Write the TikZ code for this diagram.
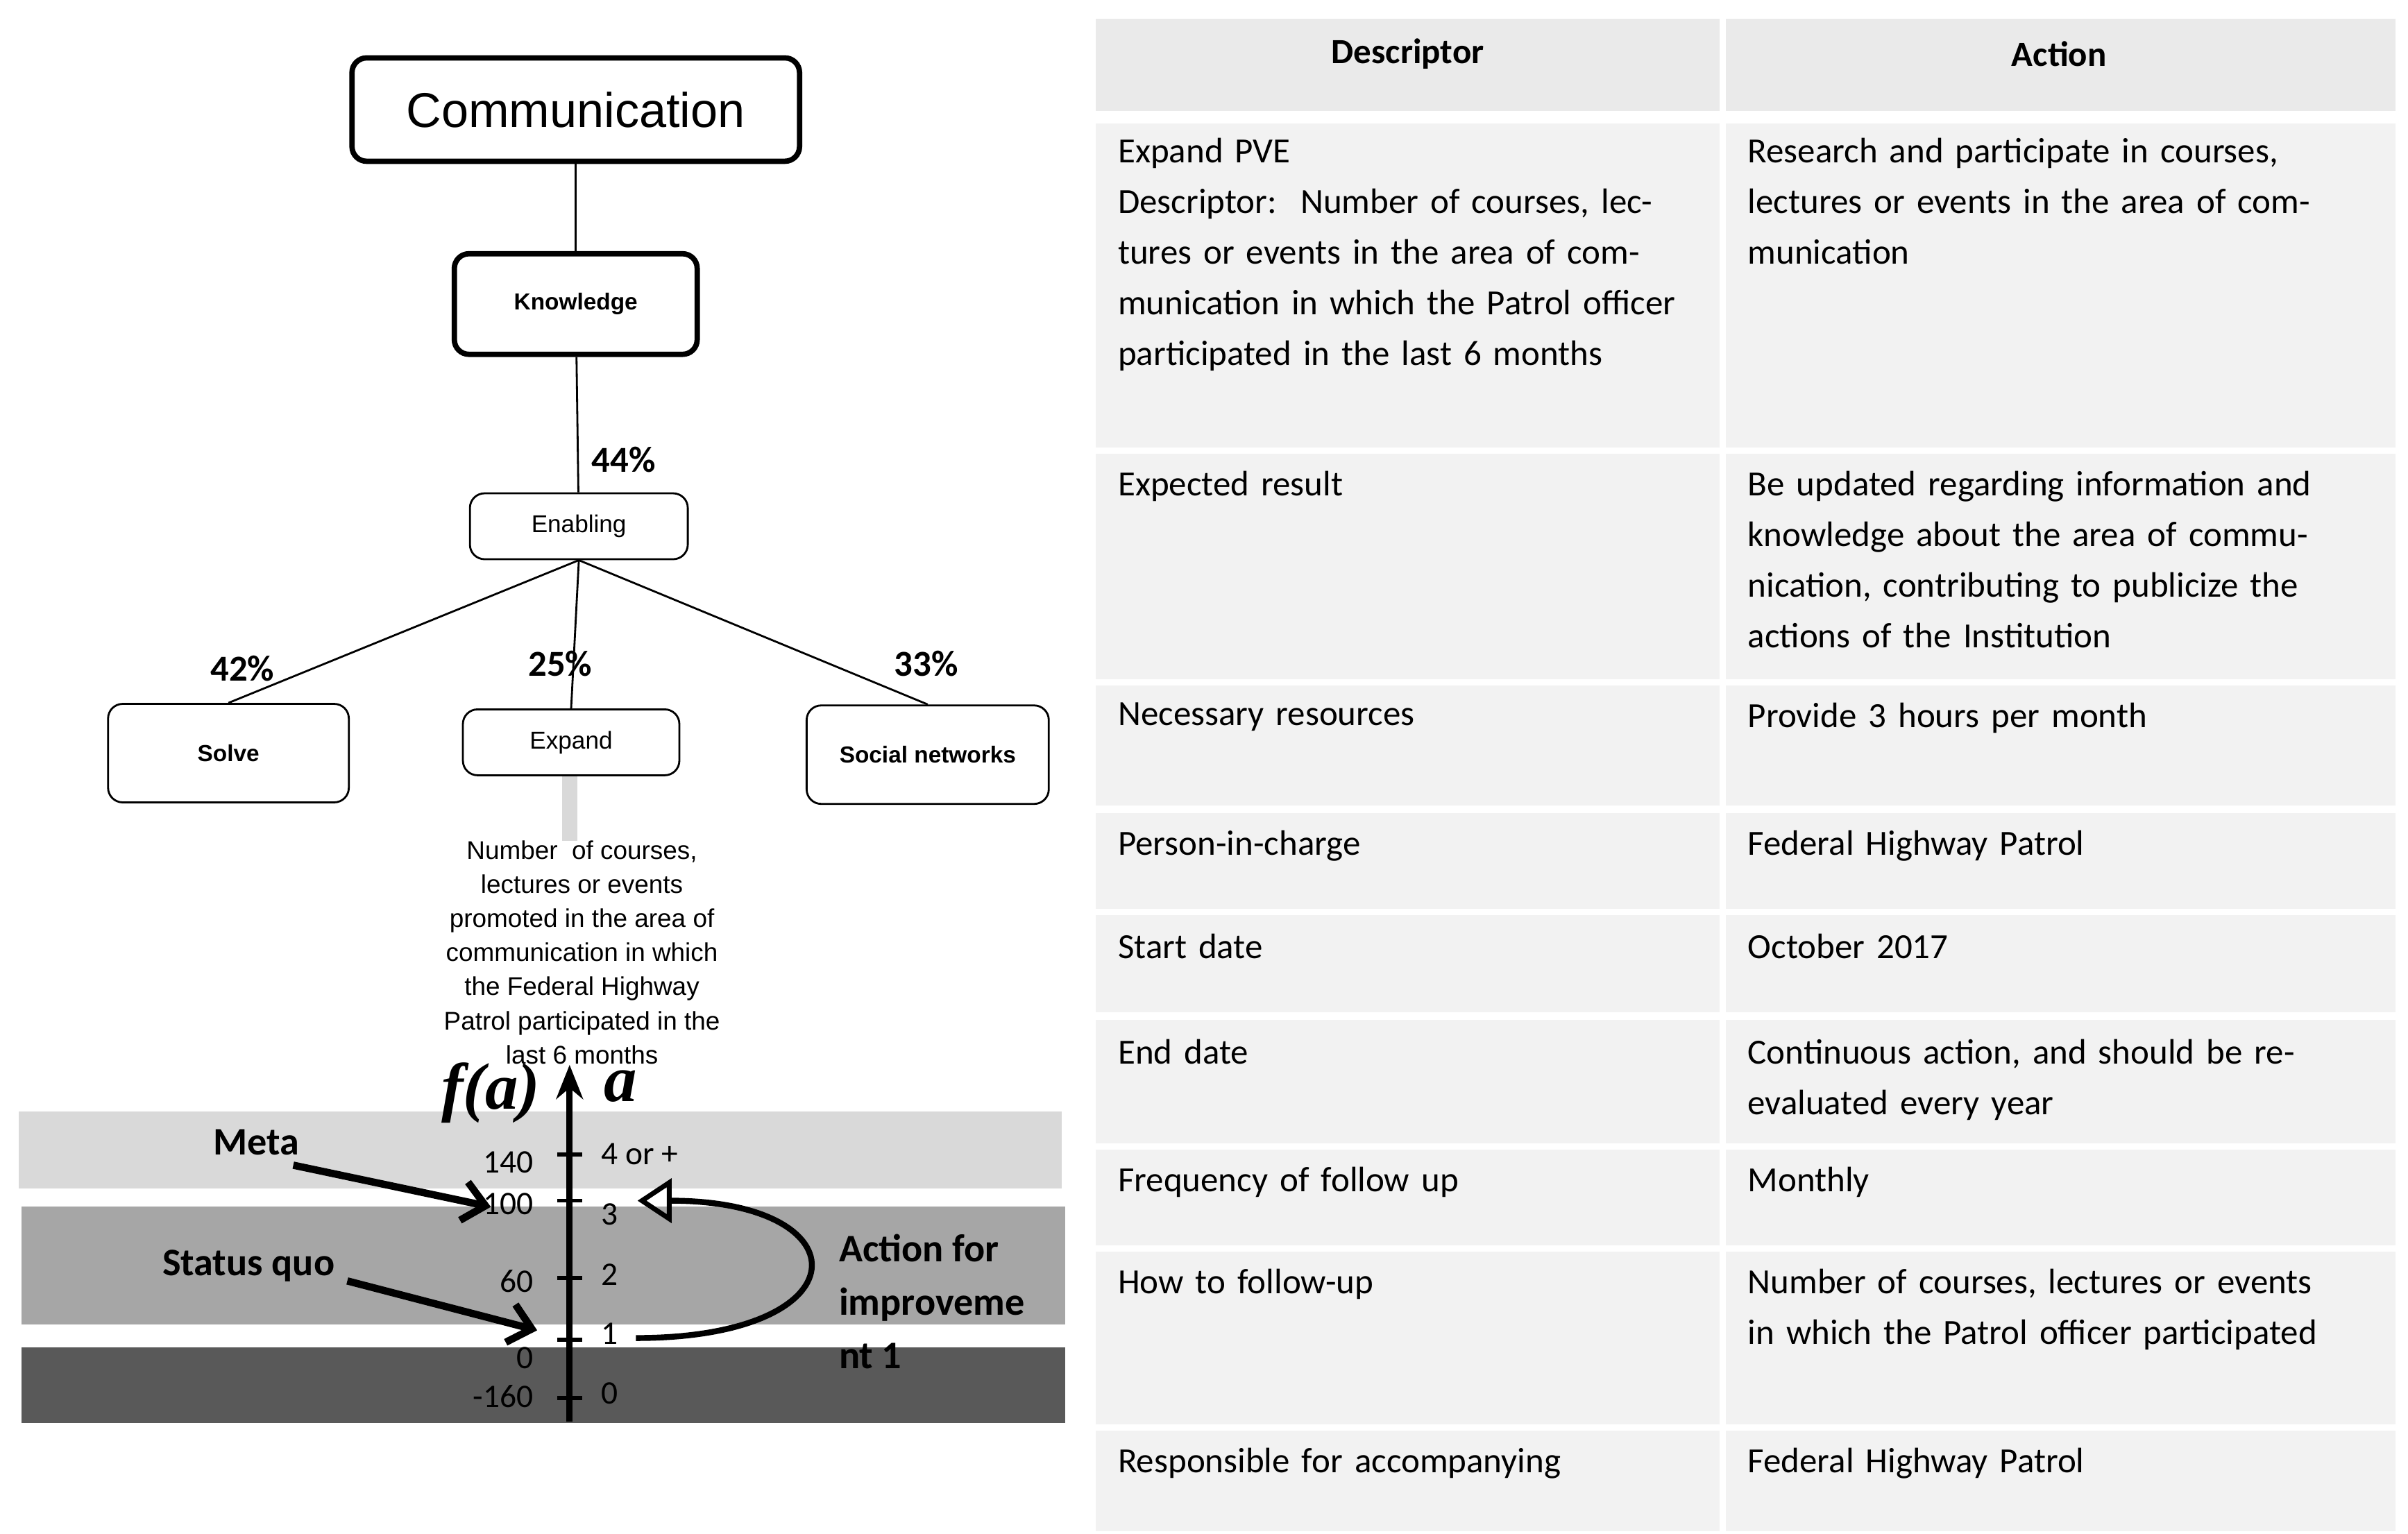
\documentclass[tikz,border=0pt]{standalone}
\usepackage{fontspec}
\setmainfont{Liberation Sans}
\newfontfamily\calfont{Carlito}
\newfontfamily\tmsfont{Liberation Serif}
\usetikzlibrary{calc, arrows.meta}
\definecolor{cellgray}{HTML}{F2F2F2}
\definecolor{bandA}{HTML}{D9D9D9}
\definecolor{bandB}{HTML}{A6A6A6}
\definecolor{bandC}{HTML}{595959}
\tikzset{
  box/.style={draw, rounded corners=6pt, line width=0.8pt, minimum height=0.95cm},
  bigbox/.style={box, line width=2.2pt},
  pct/.style={font=\calfont\bfseries\fontsize{15}{18}\selectfont},
  cell/.style={anchor=north west, inner sep=0pt, align=left, text width=8.45cm,
    font=\calfont\fontsize{14.5}{20.8}\selectfont},
  tick/.style={font=\calfont\fontsize{13.5}{15}\selectfont},
  callout/.style={font=\calfont\bfseries\fontsize{16}{22}\selectfont}
}
\begin{document}
\begin{tikzpicture}[x=0.02224cm, y=-0.02224cm]
\useasboundingbox (0,0) rectangle (1560,993.7);

% Table
\fill[cellgray!80!gray!60] (710,12) rectangle (1114,72);
\fill[cellgray!80!gray!60] (1118,12) rectangle (1552,72);
\foreach \t/\b in {80/290, 294/440, 444/522, 527/589, 593/656, 661/741, 745/807, 811/923, 927/992}{
  \fill[cellgray] (710,\t) rectangle (1114,\b);
  \fill[cellgray] (1118,\t) rectangle (1552,\b);
}
\node[font=\calfont\bfseries\fontsize{14.5}{18}\selectfont] (hd) at (912,35) {Descriptor};
\node[font=\calfont\bfseries\fontsize{14.5}{18}\selectfont] (ha) at (1334,35) {Action};
\node[cell] (d1) at (724,89) {Expand PVE\\Descriptor:\ \ Number of courses, lectures or events in the area of communication in which the Patrol officer participated in the last 6 months};
\node[cell] (a1) at (1132,89) {Research and participate in courses, lectures or events in the area of communication};
\node[cell] (d2) at (724,305) {Expected result};
\node[cell] (a2) at (1132,305) {Be updated regarding information and knowledge about the area of communication, contributing to publicize the actions of the Institution};
\node[cell] (d3) at (724,455) {Necessary resources};
\node[cell] (a3) at (1132,455) {Provide 3 hours per month};
\node[cell] (d4) at (724,538) {Person-in-charge};
\node[cell] (a4) at (1132,538) {Federal Highway Patrol};
\node[cell] (d5) at (724,605) {Start date};
\node[cell] (a5) at (1132,605) {October 2017};
\node[cell] (d6) at (724,673) {End date};
\node[cell] (a6) at (1132,673) {Continuous action, and should be re-evaluated every year};
\node[cell] (d7) at (724,756) {Frequency of follow up};
\node[cell] (a7) at (1132,756) {Monthly};
\node[cell] (d8) at (724,822) {How to follow-up};
\node[cell] (a8) at (1132,822) {Number of courses, lectures or events in which the Patrol officer participated};
\node[cell] (d9) at (724,938) {Responsible for accompanying};
\node[cell] (a9) at (1132,938) {Federal Highway Patrol};

% Tree
\node[bigbox, minimum width=6.45cm, minimum height=1.49cm, font=\fontsize{20}{24}\selectfont] (comm) at (373,71) {Communication};
\node[bigbox, minimum width=3.5cm, minimum height=1.45cm, font=\bfseries\fontsize{9.5}{12}\selectfont] (know) at (373,197) {Knowledge};
\node[box, minimum width=3.14cm, font=\fontsize{10}{12}\selectfont] (enab) at (375,341) {Enabling};
\node[box, minimum width=3.47cm, minimum height=1.42cm, font=\bfseries\fontsize{9.5}{12}\selectfont] (solve) at (148,488) {Solve};
\node[box, minimum width=3.12cm, font=\fontsize{10}{12}\selectfont] (expand) at (370,481) {Expand};
\node[box, minimum width=3.49cm, minimum height=1.42cm, font=\bfseries\fontsize{9.5}{12}\selectfont] (social) at (601,489) {Social networks};
\draw[line width=0.8pt] (comm) -- (know);
\draw[line width=0.8pt] (know) -- (enab);
\draw[line width=0.8pt] (enab.south) -- (solve.north);
\draw[line width=0.8pt] (enab.south) -- (expand.north);
\draw[line width=0.8pt] (enab.south) -- (social.north);
\node[pct] (p44) at (404,298) {44\%};
\node[pct] (p42) at (157,433) {42\%};
\node[pct] (p25) at (363,430) {25\%};
\node[pct] (p33) at (600,430) {33\%};

% Indicator
\fill[bandA] (12,720) rectangle (688,770);
\fill[bandB] (14,782) rectangle (690,858);
\fill[bandC] (14,873) rectangle (690,922);
\fill[bandA] (364,503) rectangle (374,545);
\node[align=center, font=\fontsize{10.5}{14}\selectfont] (ind) at (377,617) {Number\ \ of courses,\\lectures or events\\promoted\ in the area of\\communication\ in which\\the Federal Highway\\Patrol participated\ in the\\last 6 months};
\coordinate (ax0) at (369,921);
\coordinate (ax1) at (369,690);
\draw[line width=2.6pt, -{Stealth[length=14pt,width=11pt]}] (ax0) -- (ax1);
\foreach \y in {748, 778, 828, 868, 906}{
  \draw[line width=1.6pt] (361,\y) -- (377,\y);
}
\node[tick, anchor=east] (f140) at (351,753) {140};
\node[tick, anchor=east] (f100) at (351,780) {100};
\node[tick, anchor=east] (f60) at (351,830) {60};
\node[tick, anchor=east] (f0) at (351,880) {0};
\node[tick, anchor=east] (fm) at (351,905) {-160};
\node[tick, anchor=west] (t4) at (384,748) {4 or +};
\node[tick, anchor=west] (t3) at (384,787) {3};
\node[tick, anchor=west] (t2) at (384,826) {2};
\node[tick, anchor=west] (t1) at (384,864) {1};
\node[tick, anchor=west] (t0) at (384,903) {0};
\node[font=\tmsfont\bfseries\itshape\fontsize{27}{30}\selectfont] (fa) at (318,708) {f(a)};
\node[font=\tmsfont\bfseries\itshape\fontsize{27}{30}\selectfont] (aa) at (402,704) {a};

\node[callout] (meta) at (166,740) {Meta};
\node[callout] (sq) at (161,820) {Status quo};
\node[callout, anchor=north west, align=left] (act) at (538,794) {Action for\\improveme\\nt 1};
\coordinate (mt) at (318,782);
\coordinate (st) at (348,862);
\draw[line width=3pt, -{Straight Barb[length=9pt,width=16pt]}] (190,755) -- (mt);
\draw[line width=3pt, -{Straight Barb[length=9pt,width=16pt]}] (225,830) -- (st);
\coordinate (c0) at (412,867);
\coordinate (c1) at (413,778);
\draw[line width=2.4pt, -{Triangle[open, length=14pt, width=18pt, line width=2pt]}] (c0) .. controls (560,867) and (560,778) .. (c1);
\end{tikzpicture}
\end{document}
